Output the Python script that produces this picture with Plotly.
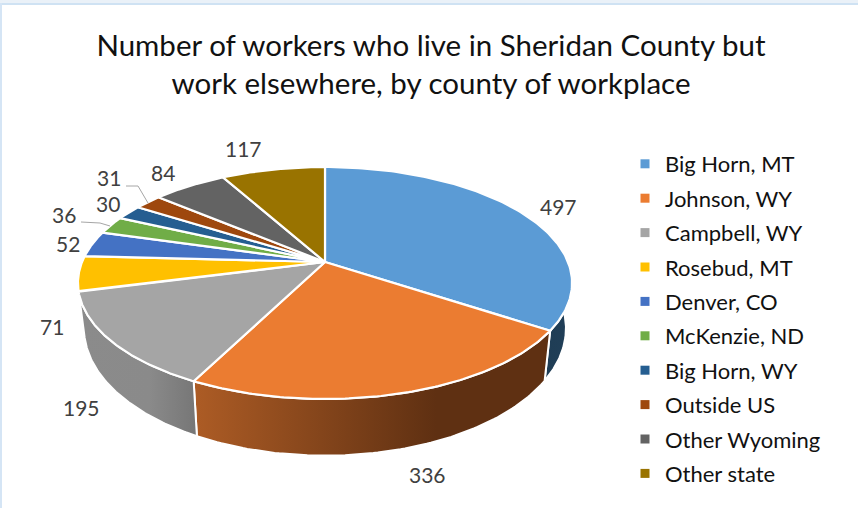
import numpy as np
import plotly.graph_objects as go

categories = ["Big Horn, MT", "Johnson, WY", "Campbell, WY", "Rosebud, MT", "Denver, CO",
              "McKenzie, ND", "Big Horn, WY", "Outside US", "Other Wyoming", "Other state"]
values = [497, 336, 195, 71, 52, 36, 30, 31, 84, 117]
colors = ["#5B9BD5", "#EB7C31", "#A5A5A5", "#FFC000", "#4472C4",
          "#70AD47", "#255E91", "#9E480E", "#636363", "#997300"]
title_text = "Number of workers who live in Sheridan County but<br>work elsewhere, by county of workplace"

label_xy = [(558, 206), (427, 474), (81, 407), (52, 326), (68, 243),
            (64, 214), (108, 203), (109, 177), (163, 172), (243, 148)]
wall_scales = {
    0: [[0, "#1F3D55"], [1, "#213F58"]],
    1: [[0, "#AD5C25"], [0.68, "#5F3012"], [1, "#5F3012"]],
    2: [[0, "#8B8B8B"], [0.6, "#8A8A8A"], [1, "#767676"]],
}

FONT = "Lato"
K = 0.181


def top(theta):
    u, v = np.sin(theta), np.cos(theta)
    d = 1 + K * v
    return 325 + 243 * u / d, 262 - 112.2 * v / d


def bottom(theta):
    u, v = np.sin(theta), np.cos(theta)
    d = 1 + K * v
    return 325 + 237 * u / d, 305.5 - 123 * v / d


fig = go.Figure()
total = sum(values)
edges = np.concatenate([[0], np.cumsum(values)]) / total * 2 * np.pi

# side walls of the front slices
for i, scale in wall_scales.items():
    a = max(edges[i], np.pi / 2)
    t = np.linspace(a, edges[i + 1], 90)
    xt, yt = top(t)
    xb, yb = bottom(t)
    fig.add_trace(go.Scatter(
        x=np.concatenate([xt, xb[::-1], xt[:1]]),
        y=np.concatenate([yt, yb[::-1], yt[:1]]),
        mode="lines", fill="toself", line=dict(color="white", width=2),
        fillgradient=dict(type="horizontal", colorscale=scale),
        showlegend=False, hoverinfo="skip"))

# top faces
for i, (name, c) in enumerate(zip(categories, colors)):
    t = np.linspace(edges[i], edges[i + 1], 120)
    xt, yt = top(t)
    fig.add_trace(go.Scatter(
        x=np.concatenate([[325], xt, [325]]),
        y=np.concatenate([[262], yt, [262]]),
        mode="lines", fill="toself", fillcolor=c, line=dict(color="white", width=2.2),
        showlegend=False, name=name, hoverinfo="name"))

# leader lines for the two displaced labels
fig.add_trace(go.Scatter(x=[81, 100, 110], y=[222, 223, 226], mode="lines",
                         line=dict(color="#A6A6A6", width=1), showlegend=False, hoverinfo="skip"))
fig.add_trace(go.Scatter(x=[126, 138, 148], y=[186, 186, 203], mode="lines",
                         line=dict(color="#A6A6A6", width=1), showlegend=False, hoverinfo="skip"))

# legend entries
for i, (name, c) in enumerate(zip(categories, colors)):
    fig.add_trace(go.Scatter(x=[None], y=[None], mode="markers", name=name, legendgroup=name,
                             marker=dict(symbol="square", size=9, color=c)))

for v, (x, y) in zip(values, label_xy):
    fig.add_annotation(x=x, y=y, text=str(v), showarrow=False,
                       font=dict(family=FONT, size=21, color="#404040"),
                       xanchor="center", yanchor="middle")

fig.update_layout(
    width=858, height=508, autosize=False,
    margin=dict(l=0, r=0, t=0, b=0),
    paper_bgcolor="white", plot_bgcolor="white",
    xaxis=dict(range=[0, 858], visible=False, fixedrange=True),
    yaxis=dict(range=[508, 0], visible=False, fixedrange=True),
    title=dict(text=title_text, x=431 / 858, xanchor="center", y=1 - 56 / 508, yanchor="top",
               font=dict(family=FONT, size=29.5, color="#111111")),
    legend=dict(x=625 / 858, xanchor="left", y=1 - 143 / 508, yanchor="top",
                font=dict(family=FONT, size=22, color="#111111"),
                tracegroupgap=2.8, bgcolor="rgba(0,0,0,0)"),
    shapes=[
        dict(type="rect", xref="x", yref="y", x0=0, x1=858, y0=0, y1=3, fillcolor="#EAF1F8", line_width=0),
        dict(type="rect", xref="x", yref="y", x0=0, x1=858, y0=3, y1=5, fillcolor="#CFE2F3", line_width=0),
        dict(type="rect", xref="x", yref="y", x0=0, x1=2, y0=3, y1=508, fillcolor="#D5E5F5", line_width=0),
    ],
)
fig.write_html("out.html", config={"displayModeBar": False},
               post_script="document.body.style.margin='0';document.documentElement.style.overflow='hidden';")
